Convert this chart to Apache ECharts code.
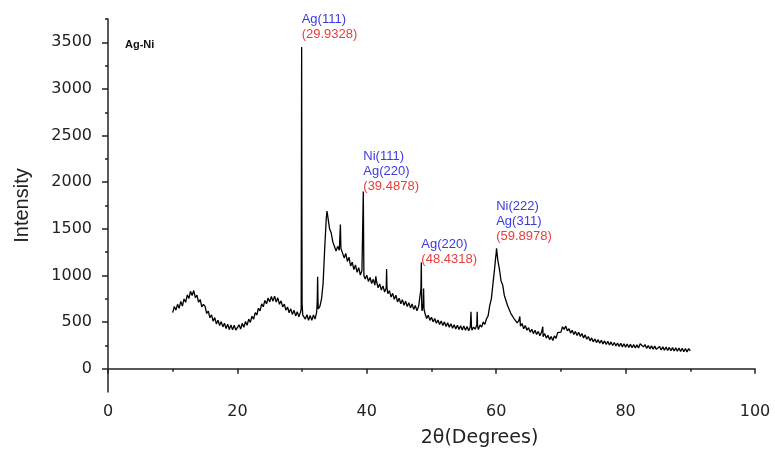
<!DOCTYPE html>
<html>
<head>
<meta charset="utf-8">
<script src="https://cdn.jsdelivr.net/npm/echarts@6/dist/echarts.min.js"></script>
<style>
html,body{margin:0;padding:0;background:#fff;}
#chart{width:775px;height:450px;}
</style>
</head>
<body>
<div id="chart"></div>
<script>
var scanStart = 10;
var scanStep = 0.25;
var intensity = [
  // 10.00 - 14.75
  602,668,628,690,648,722,672,748,712,792,752,830,785,838,762,790,712,742,662,690,
  // 15.00 - 19.75
  668,592,618,546,578,510,548,480,520,462,505,448,488,430,478,420,470,416,465,414,
  // 20.00 - 24.75
  418,470,426,486,444,506,466,532,496,562,530,602,576,648,620,696,664,732,696,758,
  // 25.00 - 29.75
  716,774,724,778,714,760,690,728,662,692,626,662,600,642,582,628,566,610,556,604,
  // 30.00 - 34.75
  700,582,532,578,520,572,518,576,532,606,640,668,745,918,1300,1630,1618,1500,1455,1360,
  // 35.00 - 39.75
  1352,1262,1312,1270,1290,1272,1188,1236,1150,1196,1100,1142,1062,1112,1034,1084,1004,1052,1500,962,
  // 40.00 - 44.75
  1002,936,978,914,958,896,938,868,908,844,888,822,866,804,838,768,808,744,788,716,
  // 45.00 - 49.75
  756,696,740,680,724,666,708,652,694,636,678,620,666,676,650,780,592,538,574,518,
  // 50.00 - 54.75
  552,502,538,488,522,474,512,462,502,452,492,444,482,434,472,426,466,420,460,416,
  // 55.00 - 59.75
  458,412,452,406,450,414,446,424,470,420,470,446,500,476,536,566,676,748,912,1070,
  // 60.00 - 64.75
  1240,1164,1066,940,898,788,772,678,672,594,604,538,556,492,516,456,484,428,464,412,
  // 65.00 - 69.75
  440,392,422,376,412,366,400,354,390,344,376,328,358,312,345,302,352,326,386,366,
  // 70.00 - 74.75
  392,450,422,456,406,428,382,412,366,400,356,390,346,378,330,362,316,345,298,330,
  // 75.00 - 79.75
  288,318,280,311,273,305,266,298,260,293,254,287,248,281,243,276,238,272,234,268,
  // 80.00 - 84.75
  231,265,227,261,224,258,221,255,223,267,276,234,258,218,249,213,245,210,242,207,
  // 85.00 - 89.75
  206,238,201,234,198,232,195,228,192,226,189,223,187,222,184,219,182,217,180,215,
  // 90.00
  190
];
// Sharp reflections sampled more finely: [2θ, intensity]
var peakPoints = [
  [29.86,640],[29.9,2300],[29.93,3450],[29.96,1900],[30.1,575],
  [32.33,700],[32.4,985],[32.46,720],
  [33.85,1690],
  [35.86,1450],[35.92,1545],[35.96,1400],
  [39.4,1060],[39.46,1900],[39.55,1000],
  [41.4,990],
  [43.06,1070],[43.12,870],
  [48.36,850],[48.43,1140],[48.47,800],[48.55,620],[48.72,700],[48.78,860],[48.84,640],
  [56.1,610],[56.18,450],[57.06,610],[57.12,460],
  [59.9,1180],[60.05,1290],
  [63.65,560],
  [67.2,450]
];
// Peak annotations
var annoX = [29.93, 39.46, 48.43, 60.0];
var annoY = [3500, 1870, 1090, 1336];
var annoNames = [['Ag(111)'], ['Ni(111)','Ag(220)'], ['Ag(220)'], ['Ni(222)','Ag(311)']];
var annoValues = ['(29.9328)', '(39.4878)', '(48.4318)', '(59.8978)'];
var xMajorTicks = [0,20,40,60,80,100];
var xMinorTicks = [10,30,50,70,90];
var yMajorTicks = [0,500,1000,1500,2000,2500,3000,3500];
var yMinorTicks = [250,750,1250,1750,2250,2750,3250,3750];
var sampleLabel = 'Ag-Ni';

var pts = [];
for (var i = 0; i < intensity.length; i++) {
  pts.push([scanStart + i * scanStep, intensity[i]]);
}
pts = pts.concat(peakPoints).sort(function(a,b){return a[0]-b[0];});

var markData = annoX.map(function(x, k){
  var lines = annoNames[k].map(function(n){return '{n|' + n + '}';});
  lines.push('{v|' + annoValues[k] + '}');
  return {coord:[x, annoY[k]], value: annoValues[k], label:{formatter: lines.join('\n')}};
});

var chart = echarts.init(document.getElementById('chart'), null, {renderer:'canvas'});
var axisFont = {fontFamily:'DejaVu Sans', fontSize:16, color:'#222'};
var plain = function(v){ return String(v); };
var tickStyle = {color:'#222', width:1.5};
chart.setOption({
  animation:false,
  backgroundColor:'#fff',
  title:{text:sampleLabel, left:120, top:34, textStyle:{fontFamily:'Liberation Sans', fontSize:11, fontWeight:'bold', color:'#111'}},
  grid:{left:108, right:20, top:19, bottom:58, containLabel:false, outerBoundsMode:'none'},
  xAxis:[{
    type:'value', min:0, max:100, interval:10,
    name:'2θ(Degrees)', nameLocation:'middle', nameGap:37,
    nameTextStyle:{fontFamily:'DejaVu Sans', fontSize:19, color:'#222', padding:[0,0,0,96]},
    axisLine:{lineStyle:{color:'#222', width:1.5}},
    axisTick:{show:true, length:5, customValues:xMajorTicks, lineStyle:tickStyle},
    axisLabel:Object.assign({margin:12, customValues:xMajorTicks, formatter:plain}, axisFont),
    splitLine:{show:false}
  },{
    type:'value', min:0, max:100, interval:10, position:'bottom',
    axisLine:{show:false},
    axisTick:{show:true, length:3, customValues:xMinorTicks, lineStyle:tickStyle},
    axisLabel:{show:false},
    splitLine:{show:false}
  }],
  yAxis:[{
    type:'value', min:-250, max:3750, interval:250,
    name:'Intensity', nameLocation:'middle', nameGap:76,
    nameTextStyle:{fontFamily:'Liberation Sans', fontSize:20, color:'#222'},
    axisLine:{show:true, lineStyle:{color:'#222', width:1.5}},
    axisTick:{show:true, length:6, customValues:yMajorTicks, lineStyle:tickStyle},
    axisLabel:Object.assign({margin:16, customValues:yMajorTicks, formatter:plain}, axisFont),
    splitLine:{show:false}
  },{
    type:'value', min:-250, max:3750, interval:250, position:'left',
    axisLine:{show:false},
    axisTick:{show:true, length:3, customValues:yMinorTicks, lineStyle:tickStyle},
    axisLabel:{show:false},
    splitLine:{show:false}
  }],
  series:[{
    type:'line', data:pts, xAxisIndex:0, yAxisIndex:0,
    showSymbol:false, symbol:'none', sampling:null,
    lineStyle:{color:'#000', width:1.3},
    silent:true,
    markPoint:{
      symbol:'circle', symbolSize:1,
      itemStyle:{color:'rgba(0,0,0,0)'},
      label:{show:true, position:'top', align:'left', distance:0,
        fontFamily:'Liberation Sans', fontSize:13, lineHeight:15,
        rich:{
          n:{color:'#3a3ae0', fontFamily:'Liberation Sans', fontSize:13, lineHeight:15},
          v:{color:'#e83c3c', fontFamily:'Liberation Sans', fontSize:13, lineHeight:15}
        }},
      data:markData
    }
  }]
});
</script>
</body>
</html>
